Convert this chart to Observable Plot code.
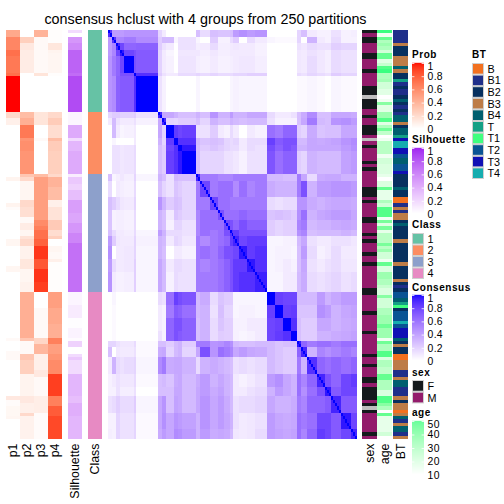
<!DOCTYPE html>
<html><head><meta charset="utf-8">
<script src="https://cdn.jsdelivr.net/npm/d3@7"></script>
<script src="https://cdn.jsdelivr.net/npm/@observablehq/plot@0.6"></script>
<style>
html,body{margin:0;padding:0;background:#fff;width:504px;height:504px;overflow:hidden}
#page{position:relative;width:504px;height:504px;font-family:"Liberation Sans",Arial,sans-serif}
#page>*{position:absolute}
#title{left:0;top:11px;width:411px;text-align:center;font-size:14.35px;line-height:16px;color:#000;white-space:nowrap}
svg{overflow:visible}
</style></head><body><div id="page"><div id="title">consensus hclust with 4 groups from 250 partitions</div></div>
<script>
// Per-row annotation values, stored as [value, repeat] runs in row order
const p1Runs=[[.45,2],[.62,4],[.72,2],[.68,5],[.72,1],[1,11],[.2,2],[.08,2],[0,15],[0,1],[.06,1],[0,7],[.06,1],[.02,1],[0,9],[.05,2],[0,6],[.05,2],[0,6],[0,14],[.03,1],[0,3],[.03,3],[0,11],[.12,1],[.02,2],[.04,3],[.05,1],[0,6]];
const p2Runs=[[0,2],[.25,2],[.12,2],[.1,7],[0,12],[.35,2],[.42,2],[.68,4],[.55,1],[.58,3],[.55,7],[.3,1],[.2,1],[.05,6],[.2,2],[.17,3],[.03,2],[.1,2],[.05,2],[.15,1],[.2,2],[.07,4],[.13,3],[.05,4],[.07,3],[.42,14],[.3,1],[.03,4],[.3,2],[.25,4],[.06,7],[.12,2],[.08,3],[.2,1],[.07,7]];
const p3Runs=[[.4,2],[.03,11],[.14,1],[0,11],[.14,4],[0,4],[.03,1],[0,10],[.35,1],[.5,2],[.5,11],[.6,2],[.65,1],[.72,3],[.78,2],[.92,4],[.82,3],[.93,4],[.9,3],[0,5],[.03,9],[.22,2],[.38,3],[.08,5],[.12,2],[.03,6],[.09,5],[.02,8]];
const p4Runs=[[.01,4],[.13,2],[.06,1],[.05,6],[.01,1],[0,11],[.2,2],[.27,2],[.18,4],[.35,1],[.27,3],[.25,7],[.2,1],[.4,3],[.35,4],[.08,2],[.15,4],[.28,3],[.18,2],[.25,1],[0,2],[.05,2],[.03,2],[.08,1],[.01,9],[.5,5],[.45,5],[.42,4],[.65,2],[.5,3],[.55,2],[.6,4],[.9,7],[.65,3],[.8,3],[.87,7]];
const silhouetteRuns=[[.18,1],[0,1],[.52,2],[.58,2],[.76,7],[.72,1],[.86,11],[.05,4],[.42,4],[.18,1],[.36,3],[.42,7],[.09,1],[.27,2],[.22,2],[.32,3],[.48,4],[.44,3],[.52,3],[.6,3],[.7,15],[.05,4],[.1,4],[.01,3],[.06,3],[.02,1],[.22,2],[0,2],[.18,1],[.27,1],[.18,4],[.36,7],[.32,2],[.4,4],[.36,7]];
const classRuns=[["1",25],["2",19],["3",36],["4",45]];
const sexRuns=[["F",1],["M",1],["F",2],["M",3],["F",2],["M",3],["F",1],["M",4],["F",3],[null,1],["F",3],["M",2],["F",1],["M",2],["F",3],["M",1],[null,1],["M",1],["F",1],["M",4],["F",1],["M",1],["F",1],["M",5],["F",3],["M",1],["F",1],["M",4],["F",2],["M",3],["F",1],["M",1],["F",1],["M",3],["F",1],["M",2],["F",1],["M",7],["F",2],["M",5],["F",1],["M",5],["F",1],["M",6],["F",1],["M",2],["F",1],["M",3],["F",2],["M",1],["F",4],["M",1],["F",1],[null,1],["F",1],["M",6],["F",1],["M",1]];
const ageValues=[48,5,42,25,30,25,15,42,42,10,18,45,48,25,25,28,15,15,10,10,null,5,35,10,10,30,30,45,10,25,40,20,null,5,22,22,22,22,5,15,15,12,12,12,8,null,12,12,42,8,8,8,25,15,45,45,45,5,38,10,38,8,22,22,22,38,22,30,15,15,5,42,12,12,30,30,25,25,18,12,12,35,15,15,15,25,25,30,30,30,40,30,30,30,5,40,25,25,45,45,12,25,25,20,20,42,42,25,25,25,12,12,45,45,35,25,null,42,8,8,8,8,8,15,null];
const btRuns=[["B1",4],["B3",1],["B2",3],["B3",3],["B4",1],["B3",1],["B2",2],["T",1],["B1",1],["B2",1],["B1",2],["B2",1],["B4",1],["B2",1],["B1",1],["B2",1],["B1",1],["B4",2],["B3",1],["B2",1],["B4",2],["T",1],["T3",1],["T4",2],["T3",2],["T2",1],["B4",2],["T2",2],["T3",1],["B2",4],["B4",1],["B2",2],["B",2],["B1",1],["B3",1],["B1",1],["B3",2],["B2",1],["B4",1],["B2",4],["B3",1],["B2",6],["B3",1],["B2",4],["B3",1],["B2",1],["B1",1],["B2",1],["T2",2],["B4",1],["T",1],["T1",1],["B2",1],["T2",3],["T4",1],["T2",1],["T3",3],["B4",1],["B2",1],["B3",1],["B2",2],["B",2],["B3",3],["B1",2],["B3",1],["B4",2],["B1",3],["B3",1],["B2",1],["B3",2],["B",1],["B3",1],["B4",1],["B1",1],["B3",1],["B4",2],["B1",1],["B3",1]];
// Consensus: number of rows in each dendrogram block, then the upper triangle of block-to-block values
const blockSizes=[2,2,2,2,5,1,11, 2,2,4,2,2,7, 2,5,4,3,3,2,3,4,4,6, 4,4,4,3,2,3,5,4,3,5,5,3];
const blockValues=[
[.85,.35,.35,.35,.38,.38,.38, .12,.05,0,0,0,0, .2,.1,.2,.18,.18,.2,.35,.4,.35,.38, 0,0,0,0,.12,.2,.05,.03,.03,.08,.03,.04],
[.85,.45,.45,.5,.5,.42, .15,.22,.22,.02,.08,.08, .02,0,.15,.03,.03,.1,.15,0,.1,.05, .02,.01,.01,.01,.12,0,.25,.05,.03,.1,.03,.03],
[.9,.75,.6,.6,.62, .15,.08,.05,0,.08,.08, .04,.05,.1,.04,.04,.05,.06,.05,.05,.03, 0,0,0,0,.08,.06,.1,.08,.08,.14,.12,.12],
[.95,.75,.7,.65, .13,.05,.02,0,.06,.06, .06,.04,.06,.04,.04,.05,.05,.05,.05,.03, 0,0,0,0,.06,.05,.08,.06,.04,.1,.08,.08],
[1,.7,.65, .13,.05,.03,0,.07,.07, .04,.03,.05,.03,.03,.04,.05,.06,.06,.04, 0,0,0,0,.06,.05,.1,.06,.04,.1,.08,.08],
[.95,.85, .15,.08,.05,.05,.1,.1, .12,.1,.12,.1,.1,.1,.12,.12,.14,.14, 0,0,0,0,.1,.08,.12,.1,.08,.15,.12,.12],
[1, .08,.03,0,0,0,0, .02,0,0,0,0,.02,.03,.02,.02,.02, 0,0,0,0,.01,.01,.02,.01,0,.02,.01,.01],
[.9,.3,.3,.25,.2,.2, .25,.2,.38,.25,.25,.35,.25,.25,.3,.3, .1,.05,.05,.08,.2,.28,.42,.2,.2,.3,.3,.28],
[.9,.13,.12,.15,.15, .2,.12,.25,.2,.2,.25,.22,.2,.22,.22, .08,.03,.03,.03,.2,.3,.5,.22,.2,.38,.4,.35],
[1,.8,.75,.78, .08,.08,.15,.05,.03,.1,.05,0,.05,.03, .55,.5,.6,.6,.15,.12,.28,.18,.2,.2,.3,.3],
[1,.85,.85, .22,.18,.2,.18,.12,.1,.12,.05,.1,.1, .78,.65,.7,.7,.22,.22,.3,.28,.3,.32,.38,.42],
[1,.95, .2,.15,.18,.15,.12,.1,.1,.05,.1,.08, .72,.62,.7,.65,.25,.25,.3,.3,.3,.3,.35,.4],
[1, .2,.12,.12,.12,.08,.08,.06,.03,.08,.08, .68,.55,.62,.62,.15,.12,.25,.22,.22,.22,.32,.35],
[.9,.5,.5,.45,.45,.45,.5,.5,.5,.5, .22,.22,.2,.2,.5,.3,.1,.28,.3,.3,.25,.25],
[.75,.5,.55,.55,.55,.42,.55,.45,.5, .28,.25,.25,.25,.5,.7,.25,.35,.35,.38,.38,.35],
[.75,.55,.55,.5,.5,.5,.5,.5, .1,.08,.1,.1,.38,.38,.28,.25,.28,.3,.3,.28],
[.7,.55,.55,.55,.6,.55,.55, .18,.2,.18,.15,.4,.55,.25,.3,.32,.35,.35,.3],
[.75,.7,.6,.7,.62,.62, .15,.12,.14,.14,.45,.5,.22,.25,.25,.28,.3,.28],
[.85,.8,.7,.7,.7, .15,.12,.14,.14,.4,.45,.2,.22,.22,.22,.25,.22],
[.9,.75,.8,.8, .02,.02,.03,.03,.22,.3,.08,.05,.05,.08,.08,.06],
[.95,.8,.85, .02,.03,.03,.02,.2,.35,.1,.03,.05,.1,.05,.05],
[.95,.85, .02,.03,.05,.03,.2,.3,.08,.05,.08,.1,.06,.06],
[.92, .02,.02,.05,.05,.22,.28,.1,.08,.1,.12,.08,.1],
[1,.78,.75,.75,.22,.22,.22,.35,.25,.3,.35,.35],
[1,.78,.8,.18,.18,.18,.4,.35,.25,.3,.32],
[1,.85,.2,.15,.15,.3,.3,.25,.28,.3],
[1,.2,.15,.15,.25,.25,.28,.3,.32],
[.95,.6,.5,.55,.55,.5,.55,.55],
[.9,.25,.45,.4,.45,.5,.45],
[.85,.6,.55,.6,.55,.6],
[.9,.7,.6,.75,.8],
[.95,.65,.75,.75],
[.9,.65,.65],
[.95,.75],
[.9]
];
// The block values above were read by eye and run light; this exponent corrects that reading against the legend ramp
const readingCorrection=.82;
// Legend content and colours
const btNames=["B","B1","B2","B3","B4","T","T1","T2","T3","T4"];
const btColors=["#f2701f","#1f2f8a","#07305f","#bd7c47","#005f6f","#14a085","#3fff7f","#0a5494","#1010b4","#16adaf"];
const sexNames=["F","M"];const sexColors=["#14191c","#931b6b"];
const classNames=["1","2","3","4"];const classColors=["#66C2A5","#FC8D62","#8DA0CB","#E78AC3"];
const unitTicks=[0,.2,.4,.6,.8,1];const ageTicks=[10,20,30,40,50];
const NA="#bebebe";
const FONT='"Liberation Sans",Arial,sans-serif';
const n=125,rows=d3.range(n),top0=30,bottom0=439,H=504;
const page=document.getElementById("page");
const expand=r=>r.flatMap(([v,k])=>Array(k).fill(v));
const p1=expand(p1Runs),p2=expand(p2Runs),p3=expand(p3Runs),p4=expand(p4Runs),sil=expand(silhouetteRuns),cls=expand(classRuns),sex=expand(sexRuns),bt=expand(btRuns);
const blockOf=blockSizes.flatMap((k,b)=>Array(k).fill(b));
const consensus=(i,j)=>{if(i===j)return 1;let a=blockOf[i],b=blockOf[j];if(a>b)[a,b]=[b,a];return Math.pow(blockValues[a][b-a],readingCorrection);};
function place(el,left,top){el.style.left=left+"px";el.style.top=top+"px";page.appendChild(el);}
function strip(left,width,colNames,data,color,fillOf){
  const el=Plot.plot({width,height:H,marginLeft:0,marginRight:0,marginTop:top0,marginBottom:H-bottom0,
    style:{fontFamily:FONT,fontSize:"12.4px",color:"#000",background:"transparent"},
    x:{type:"band",domain:colNames,padding:0,round:false,label:null,tickSize:0,tickRotate:-90,tickPadding:4},
    y:{type:"band",domain:rows,padding:0,round:false,axis:null},
    color,
    marks:[Plot.cell(data,{x:"col",y:"row",fill:fillOf,shapeRendering:"crispEdges",inset:0})]});
  place(el,left,0);
}
const probColor={type:"linear",domain:[0,1],range:["#ffffff","#ff0000"],interpolate:"lab"};
const silColor={type:"linear",domain:[0,1],range:["#ffffff","#a020f0"],interpolate:"lab"};
const consColor={type:"linear",domain:[0,1],range:["#ffffff","#0000ff"],interpolate:"lab"};
const ageColor={type:"linear",domain:[0,50],range:["#ffffff","#1fff7a"],interpolate:"lab"};
strip(6,56,["p1","p2","p3","p4"],[["p1",p1],["p2",p2],["p3",p3],["p4",p4]].flatMap(([c,a])=>a.map((v,r)=>({col:c,row:r,v}))),probColor,"v");
strip(68,14,["Silhouette"],sil.map((v,r)=>({col:"Silhouette",row:r,v})),silColor,"v");
strip(88,14,["Class"],cls.map((v,r)=>({col:"Class",row:r,v})),{type:"ordinal",domain:classNames,range:classColors},"v");
const cells=[];for(const i of rows)for(const j of rows)cells.push({i,j,v:consensus(i,j)});
place(Plot.plot({width:249,height:H,marginLeft:0,marginRight:0,marginTop:top0,marginBottom:H-bottom0,
  style:{background:"transparent"},
  x:{type:"band",domain:rows,padding:0,round:false,axis:null},
  y:{type:"band",domain:rows,padding:0,round:false,axis:null},
  color:consColor,
  marks:[Plot.cell(cells,{x:"j",y:"i",fill:"v",shapeRendering:"crispEdges"})]}),108,0);
const catStrip=(left,name,vals,dom,rng)=>strip(left,14.5,[name],vals.map((v,r)=>({col:name,row:r,v})),{type:"ordinal",domain:dom.concat(["NA"]),range:rng.concat([NA])},d=>d.v==null?"NA":d.v);
catStrip(362,"sex",sex,sexNames,sexColors);
strip(377,15,["age"],ageValues.map((v,r)=>({col:"age",row:r,v})),ageColor,"v");
catStrip(393,"BT",bt,btNames,btColors);
// Legends
function legendTitle(text,left,top){const d=document.createElement("div");d.textContent=text;d.style.cssText=`left:${left}px;top:${top}px;font-size:10px;font-weight:bold;letter-spacing:.55px;line-height:12px;white-space:nowrap;color:#000`;page.appendChild(d);}
function ramp(name,top,height,domain,ticks,colors){
  const step=(domain[1]-domain[0])/height,levels=d3.range(height).map(k=>domain[0]+k*step);
  const topTick=ticks[ticks.length-1];
  const el=Plot.plot({width:60,height,marginLeft:0,marginRight:48,marginTop:0,marginBottom:0,
    style:{fontFamily:FONT,fontSize:"10.4px",letterSpacing:".35px",color:"#000",background:"transparent"},
    x:{domain:[0,1],axis:null},y:{domain,axis:null},
    color:{type:"linear",domain,range:colors,interpolate:"lab"},
    marks:[
      Plot.rect(levels,{x1:0,x2:1,y1:d=>d,y2:d=>d+step*1.2,fill:d=>d}),
      Plot.ruleY(ticks,{x1:0,x2:.2,stroke:"#fff",strokeOpacity:.8}),
      Plot.ruleY(ticks,{x1:.8,x2:1,stroke:"#fff",strokeOpacity:.8}),
      Plot.text(ticks.filter(t=>t!==topTick),{x:1,y:d=>d,text:String,textAnchor:"start",dx:3,fill:"#000"}),
      Plot.text([topTick],{x:1,y:d=>d,text:String,textAnchor:"start",dx:3,dy:3,fill:"#000"})
    ]});
  place(el,412,top);
}
function swatches(names,colors,top,left,spacing){
  const el=Plot.plot({width:60,height:spacing*names.length,marginLeft:0,marginRight:48,marginTop:0,marginBottom:0,
    style:{fontFamily:FONT,fontSize:"10.8px",color:"#000",background:"transparent"},
    x:{type:"band",domain:["swatch"],padding:0,axis:null},
    y:{type:"band",domain:names,padding:0,round:false,axis:null},
    color:{type:"ordinal",domain:names,range:colors},
    marks:[
      Plot.cell(names,{x:()=>"swatch",y:d=>d,fill:d=>d,stroke:"#cfcfcf",strokeWidth:1,inset:.5}),
      Plot.text(names,{x:()=>"swatch",y:d=>d,text:d=>d,textAnchor:"start",dx:9,fill:"#000"})
    ]});
  place(el,left,top);
}
legendTitle("Prob",412,49);ramp("Prob",63,66,[0,1],unitTicks,["#ffffff","#ff0000"]);
legendTitle("Silhouette",412,134);ramp("Silhouette",148,66,[0,1],unitTicks,["#ffffff","#a020f0"]);
legendTitle("Class",412,219);swatches(classNames,classColors,233,412,11.5);
legendTitle("Consensus",412,282);ramp("Consensus",295,66,[0,1],unitTicks,["#ffffff","#0000ff"]);
legendTitle("sex",412,367);swatches(sexNames,sexColors,380,412,11.7);
legendTitle("age",412,407);ramp("age",421,54,[10,50],ageTicks,["#ffffff","#66ff99"]);
legendTitle("BT",472,49);swatches(btNames,btColors,63,472,11.6);
</script></body></html>
